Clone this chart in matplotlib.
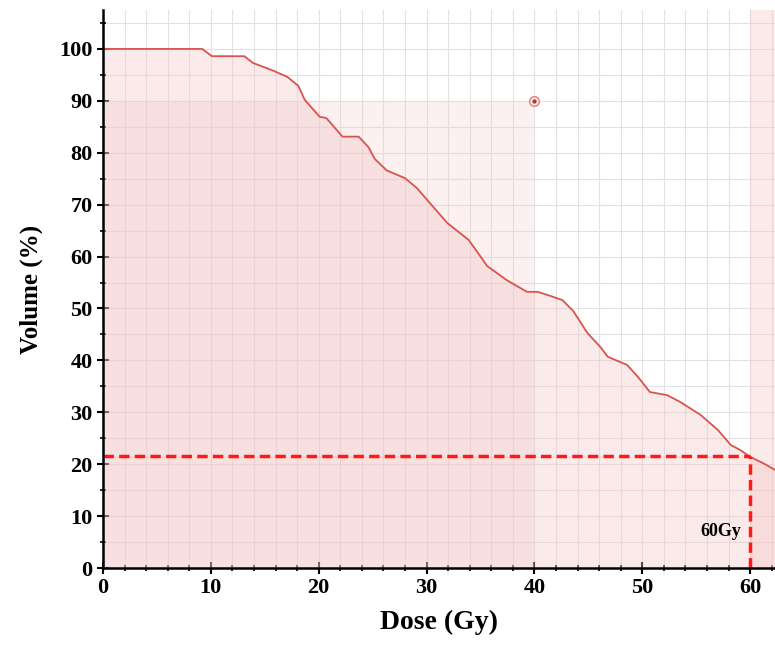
import matplotlib
matplotlib.use("Agg")
import matplotlib.pyplot as plt
from matplotlib.ticker import MultipleLocator

dose = [0, 9.2, 10.1, 13.1, 13.9, 15.8, 17.1, 18.1, 18.7, 20.1, 20.7, 22.2, 23.7, 24.6,
        25.2, 26.3, 28.0, 29.1, 30.6, 31.9, 33.9, 35.0, 35.6, 37.4, 39.3, 40.3, 41.5,
        42.6, 43.6, 44.9, 46.1, 46.8, 48.6, 49.6, 50.7, 52.3, 53.5, 55.4, 57.0, 58.2,
        59.1, 60.0, 61.2, 62.3]
volume = [100, 100, 98.6, 98.6, 97.3, 95.8, 94.6, 92.9, 90.2, 86.9, 86.7, 83.1, 83.1, 81.1,
          78.8, 76.6, 75.1, 73.2, 69.6, 66.5, 63.2, 60.0, 58.2, 55.5, 53.2, 53.2, 52.4,
          51.6, 49.5, 45.3, 42.6, 40.7, 39.1, 36.8, 33.9, 33.3, 32.0, 29.5, 26.6, 23.7,
          22.7, 21.4, 20.2, 18.9]

ref_dose = 60
ref_volume = 21.5
point_dose = 40
point_volume = 90
label = "60Gy"

font = ["Liberation Serif", "DejaVu Serif"]

fig = plt.figure(figsize=(7.75, 6.48), dpi=100)
ax = fig.add_axes([103/775, 1-568/648, (775-103)/775, (568-10)/648])
ax.set_xlim(0, 62.3)
ax.set_ylim(0, 107.5)

# shaded regions
ax.fill_between(dose, 0, volume, color="#f4c4c4", alpha=0.35, lw=0, zorder=1)
ax.fill_between([0, point_dose], 0, point_volume, color="#f4c4c4", alpha=0.25, lw=0, zorder=1)
ax.axvspan(ref_dose, 62.3, color="#f4c4c4", alpha=0.35, lw=0, zorder=1)

# grid
ax.xaxis.set_major_locator(MultipleLocator(10))
ax.xaxis.set_minor_locator(MultipleLocator(2))
ax.yaxis.set_major_locator(MultipleLocator(10))
ax.yaxis.set_minor_locator(MultipleLocator(5))
ax.grid(True, which="both", color="#e2e2e2", lw=0.8, zorder=0)
ax.set_axisbelow(True)

ax.plot(dose, volume, color="#d9534f", lw=1.3, zorder=3)
ax.plot([0, ref_dose], [ref_volume, ref_volume], color="#ff1a1a", lw=2.5, ls=(0, (3, 1.5)), zorder=4)
ax.plot([ref_dose, ref_dose], [0, ref_volume], color="#ff1a1a", lw=2.5, ls=(0, (3, 1.5)), zorder=4)
ax.plot([point_dose], [point_volume], marker="o", ms=7, mfc="#fbe3e3", mec="#e08080", mew=1, zorder=5)
ax.plot([point_dose], [point_volume], marker="o", ms=2, color="#b03030", zorder=6)

ax.text(ref_dose - 0.8, 7, label, ha="right", va="center", fontsize=13, fontweight="bold",
        family=font)

for s in ["top", "right"]:
    ax.spines[s].set_visible(False)
for s in ["left", "bottom"]:
    ax.spines[s].set_linewidth(1.8)
    ax.spines[s].set_zorder(6)

ax.tick_params(which="major", direction="inout", length=8, width=1.5)
ax.tick_params(which="minor", direction="inout", length=5, width=1.2)
ax.tick_params(axis="both", labelsize=16)
for lab in ax.get_xticklabels() + ax.get_yticklabels():
    lab.set_fontfamily(font)
    lab.set_fontweight("bold")

ax.set_xlabel("Dose (Gy)", fontsize=20, fontweight="bold", family=font, labelpad=8)
ax.set_ylabel("Volume (%)", fontsize=18, fontweight="bold", family=font, labelpad=12)

fig.savefig("out.png", dpi=100)
